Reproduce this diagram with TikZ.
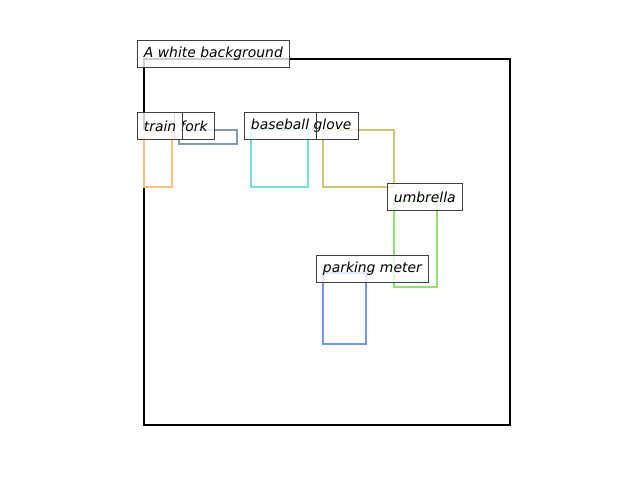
\documentclass[tikz,border=0pt]{standalone}
\usepackage{fontspec}
\setmainfont{DejaVu Sans}
\begin{document}
\begin{tikzpicture}[x=1pt,y=-1pt,
  lbl/.style={draw=black!75, line width=0.9pt, fill=white, fill opacity=0.8, text opacity=1,
    anchor=west, inner xsep=6.5pt, inner ysep=0pt, minimum height=27pt,
    font=\fontsize{13.9}{16}\selectfont\itshape},
  bbox/.style={line width=2.2pt}]
\useasboundingbox (0,0) rectangle (640,480);
\definecolor{cOrange}{RGB}{255,192,130}
\definecolor{cGrey}{RGB}{132,156,170}
\definecolor{cCyan}{RGB}{112,224,228}
\definecolor{cOlive}{RGB}{208,200,120}
\definecolor{cGreen}{RGB}{144,226,112}
\definecolor{cBlue}{RGB}{112,152,240}
% frame
\draw[line width=2pt] (144,59) rectangle (510,425);
% boxes
\draw[bbox, cOrange] (144,130) rectangle (172,187);
\draw[bbox, cGrey] (179,130) rectangle (237,144);
\draw[bbox, cCyan] (251,130) rectangle (308,187);
\draw[bbox, cOlive] (323,130) rectangle (394,187);
\draw[bbox, cGreen] (394,201) rectangle (437,287);
\draw[bbox, cBlue] (323,273) rectangle (366,344);
% labels
\node[lbl] (bg) at (137,53.5) {A white background};
\node[lbl] (fork) at (173.5,126) {fork};
\node[lbl] (train) at (137,126) {train};
\node[lbl] (bglove) at (244,126) {baseball glove};
\node[lbl, fill=none, minimum width=42pt, inner xsep=0pt] (glove) at (316,126) {};
\node[lbl] (umb) at (387,197) {umbrella};
\node[lbl] (pm) at (316,269) {parking meter};
\end{tikzpicture}
\end{document}
